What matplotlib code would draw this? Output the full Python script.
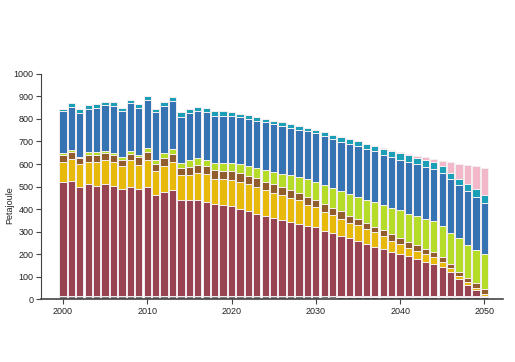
import numpy as np
import matplotlib
matplotlib.use("Agg")
import matplotlib.pyplot as plt

years = list(range(2000, 2051))

# stacked series, bottom to top (Petajoule)
dark = [0] * 31 + [3, 6, 9] + [11] * 17
grey = [14] * 31 + [11, 8, 5] + [3] * 17
maroon = [504, 511, 486, 496, 489, 495, 490, 473, 486, 476,
          486, 447, 461, 470, 427, 424, 427, 418, 409, 406,
          400, 388, 376, 366, 357, 348, 338, 329, 320, 311,
          304, 290, 278, 267, 255, 245, 231, 219, 207, 197,
          187, 176, 163, 152, 141, 130, 106, 74, 48, 28, 1]
yellow = [93, 98, 99, 101, 105, 108, 107, 103, 116, 106,
          119, 109, 118, 123, 111, 115, 120, 124, 112, 113,
          116, 119, 119, 117, 114, 110, 109, 106, 104, 95,
          90, 84, 80, 75, 71, 68, 67, 64, 59, 48,
          42, 37, 37, 32, 31, 21, 16, 15, 12, 8, 9]
brown = [27, 30, 27, 31, 32, 30, 30, 30, 29, 33,
         35, 32, 35, 37, 32, 34, 35, 36, 38, 38,
         40, 38, 38, 40, 37, 37, 36, 36, 35, 32,
         30, 33, 33, 34, 31, 28, 28, 25, 27, 29,
         27, 27, 24, 24, 23, 23, 20, 16, 21, 20, 22]
lime = [10, 10, 7, 11, 13, 12, 10, 11, 14, 12,
        17, 14, 22, 22, 21, 29, 31, 27, 31, 32,
        34, 39, 44, 45, 52, 56, 59, 64, 68, 81,
        84, 85, 89, 91, 97, 100, 101, 108, 111, 118,
        125, 126, 129, 135, 138, 136, 139, 151, 145, 148, 154]
blue = [186, 190, 193, 192, 197, 203, 207, 206, 212, 209,
        215, 213, 209, 212, 206, 209, 208, 213, 210, 211,
        210, 209, 209, 210, 211, 211, 214, 212, 212, 212,
        215, 218, 216, 217, 221, 223, 224, 226, 224, 225,
        225, 230, 231, 231, 233, 237, 240, 235, 238, 235, 226]
teal = [11, 16, 17, 17, 16, 15, 16, 14, 15, 16,
        17, 15, 16, 18, 18, 18, 20, 19, 20, 20,
        16, 16, 16, 17, 16, 16, 16, 18, 17, 17,
        15, 18, 20, 21, 22, 22, 22, 24, 26, 25,
        28, 28, 28, 28, 27, 28, 27, 29, 34, 35, 38]
pink = [0] * 37 + [2, 4, 5, 5, 7, 10, 13, 14, 25, 46, 68, 84, 101, 118]

series = [dark, grey, maroon, yellow, brown, lime, blue, teal, pink]
colors = ["#3d4454", "#7d7d7d", "#984352", "#e6b90a", "#925d2d",
          "#b5dc29", "#3673b2", "#1b9fb6", "#f2b7c9"]

plt.rcParams['font.family'] = ['Liberation Sans', 'DejaVu Sans']

fig = plt.figure(figsize=(5.15, 3.62), dpi=100)
ax = fig.add_axes([0.0796, 0.174, 0.897, 0.6216])

bottom = np.zeros(len(years))
for vals, col in zip(series, colors):
    ax.bar(years, vals, bottom=bottom, width=0.86, color=col,
           edgecolor="#f4eef0", linewidth=0.7)
    bottom += np.array(vals)

ax.set_xlim(1997.4, 2052.2)
ax.set_ylim(0, 1000)
ax.set_yticks(range(0, 1001, 100))
ax.set_xticks(range(2000, 2051, 10))
ax.tick_params(labelsize=6.5, length=3.5, width=0.8, color="#444444",
               labelcolor="#222222", pad=2)

for side in ["top", "right"]:
    ax.spines[side].set_visible(False)
ax.spines["left"].set_color("#444444")
ax.spines["bottom"].set_color("#444444")
ax.spines["left"].set_linewidth(0.8)
ax.spines["bottom"].set_linewidth(1.2)

ax.set_ylabel("Petajoule", fontsize=6.5, color="#222222")
ax.yaxis.set_label_coords(-0.058, 0.418)

plt.savefig("out.png", dpi=100)
